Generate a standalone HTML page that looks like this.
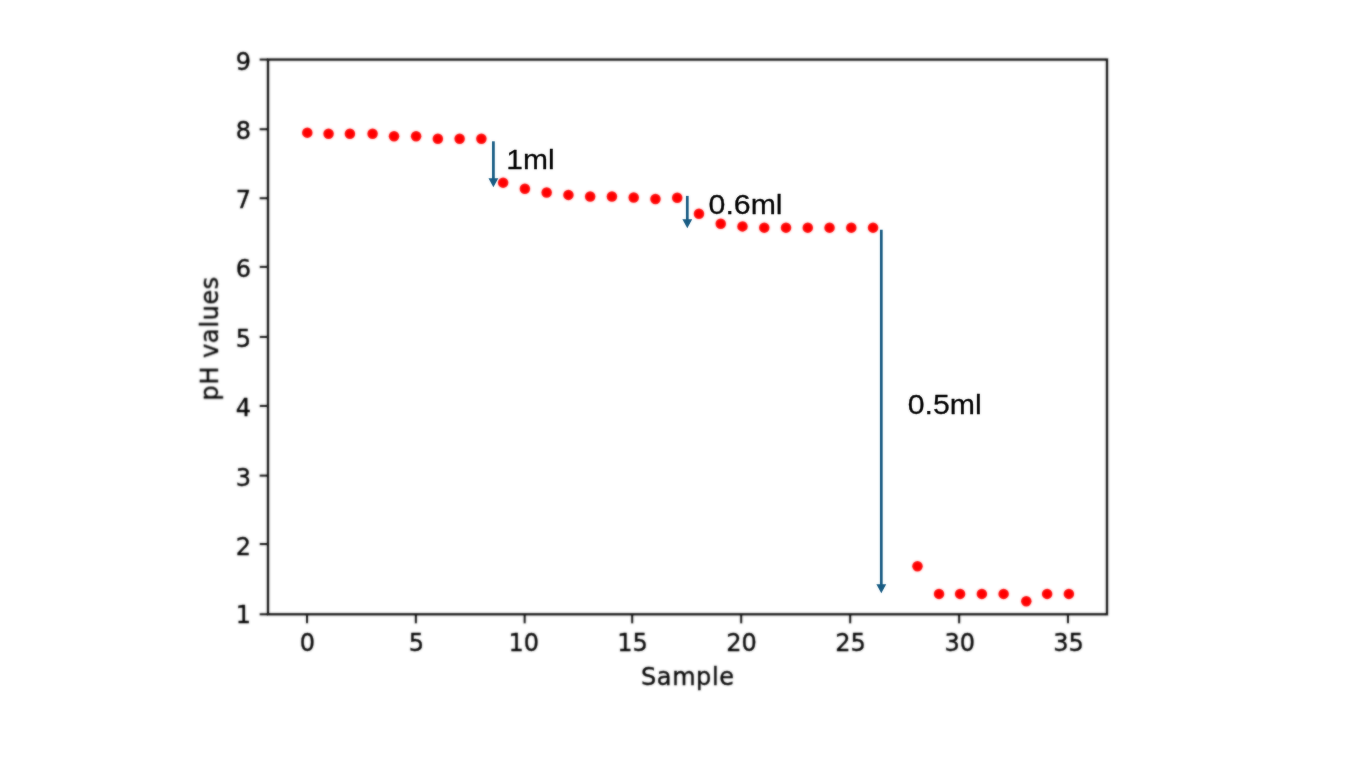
<!DOCTYPE html>
<html lang="en">
<head>
<meta charset="utf-8">
<title>pH values vs Sample</title>
<style>
html,body{margin:0;padding:0;background:#fff;}
body{width:1350px;height:759px;overflow:hidden;position:relative;}
svg{position:absolute;left:0;top:0;display:block;}
.tk{font-family:"DejaVu Sans","Liberation Sans",sans-serif;font-size:24px;fill:#000;stroke:#000;stroke-width:0.35px;stroke-linejoin:round;}
.lb{letter-spacing:0.60px;}
.an{font-family:"Liberation Sans","DejaVu Sans",sans-serif;font-size:28.2px;fill:#000;stroke:#000;stroke-width:0.28px;stroke-linejoin:round;}
</style>
</head>
<body>
<svg width="1350" height="759" viewBox="0 0 1350 759">
<defs><filter id="soft" x="0" y="0" width="1350" height="759" filterUnits="userSpaceOnUse"><feGaussianBlur in="SourceGraphic" stdDeviation="0.90" result="b"/><feComposite in="SourceGraphic" in2="b" operator="arithmetic" k1="0" k2="0.35" k3="0.65" k4="0"/></filter><filter id="soft2" x="0" y="0" width="1350" height="759" filterUnits="userSpaceOnUse"><feGaussianBlur in="SourceGraphic" stdDeviation="0.9" result="b"/><feComposite in="SourceGraphic" in2="b" operator="arithmetic" k1="0" k2="0.7" k3="0.3" k4="0"/></filter></defs>
<rect x="0" y="0" width="1350" height="759" fill="#ffffff"/>

<g id="chart" filter="url(#soft)">
<rect x="268.00" y="59.55" width="839.00" height="554.75" fill="none" stroke="#141414" stroke-width="2.35"/>
<g stroke="#141414" stroke-width="2.10">
<line x1="259.70" y1="614.30" x2="268.00" y2="614.30"/>
<line x1="259.70" y1="544.06" x2="268.00" y2="544.06"/>
<line x1="259.70" y1="475.61" x2="268.00" y2="475.61"/>
<line x1="259.70" y1="405.92" x2="268.00" y2="405.92"/>
<line x1="259.70" y1="336.92" x2="268.00" y2="336.92"/>
<line x1="259.70" y1="266.88" x2="268.00" y2="266.88"/>
<line x1="259.70" y1="198.24" x2="268.00" y2="198.24"/>
<line x1="259.70" y1="129.24" x2="268.00" y2="129.24"/>
<line x1="259.70" y1="59.55" x2="268.00" y2="59.55"/>
<line x1="307.05" y1="614.30" x2="307.05" y2="623.30"/>
<line x1="415.85" y1="614.30" x2="415.85" y2="623.30"/>
<line x1="524.65" y1="614.30" x2="524.65" y2="623.30"/>
<line x1="632.20" y1="614.30" x2="632.20" y2="623.30"/>
<line x1="741.20" y1="614.30" x2="741.20" y2="623.30"/>
<line x1="850.20" y1="614.30" x2="850.20" y2="623.30"/>
<line x1="959.15" y1="614.30" x2="959.15" y2="623.30"/>
<line x1="1067.95" y1="614.30" x2="1067.95" y2="623.30"/>
</g>
<g class="tk">
<text x="251.00" y="623.40" text-anchor="end">1</text>
<text x="251.00" y="555.06" text-anchor="end">2</text>
<text x="251.00" y="486.01" text-anchor="end">3</text>
<text x="251.00" y="415.77" text-anchor="end">4</text>
<text x="251.00" y="347.32" text-anchor="end">5</text>
<text x="251.00" y="277.08" text-anchor="end">6</text>
<text x="251.00" y="208.04" text-anchor="end">7</text>
<text x="251.00" y="139.29" text-anchor="end">8</text>
<text x="251.00" y="70.35" text-anchor="end">9</text>
<text x="307.30" y="651.30" text-anchor="middle">0</text>
<text x="416.30" y="651.00" text-anchor="middle">5</text>
<text x="523.80" y="651.00" text-anchor="middle">10</text>
<text x="632.60" y="651.00" text-anchor="middle">15</text>
<text x="741.60" y="651.00" text-anchor="middle">20</text>
<text x="850.50" y="651.00" text-anchor="middle">25</text>
<text x="959.80" y="651.00" text-anchor="middle">30</text>
<text x="1068.60" y="651.00" text-anchor="middle">35</text>
<text class="lb" x="687.8" y="684.85" text-anchor="middle">Sample</text>
<text class="lb" transform="translate(217.9 338.4) rotate(-90)" text-anchor="middle">pH values</text>
</g>
<g fill="#ff0000">
<circle cx="307.30" cy="132.64" r="5.25"/>
<circle cx="328.56" cy="133.75" r="5.25"/>
<circle cx="349.92" cy="133.75" r="5.25"/>
<circle cx="372.58" cy="133.75" r="5.25"/>
<circle cx="394.04" cy="136.17" r="5.25"/>
<circle cx="416.10" cy="136.17" r="5.25"/>
<circle cx="437.86" cy="138.81" r="5.25"/>
<circle cx="459.62" cy="138.81" r="5.25"/>
<circle cx="481.38" cy="138.81" r="5.25"/>
<circle cx="503.14" cy="182.64" r="5.25"/>
<circle cx="524.90" cy="188.74" r="5.25"/>
<circle cx="546.66" cy="192.48" r="5.25"/>
<circle cx="568.42" cy="194.91" r="5.25"/>
<circle cx="590.18" cy="196.51" r="5.25"/>
<circle cx="611.94" cy="196.51" r="5.25"/>
<circle cx="633.70" cy="197.54" r="5.25"/>
<circle cx="655.46" cy="198.93" r="5.25"/>
<circle cx="677.22" cy="197.68" r="5.25"/>
<circle cx="698.98" cy="213.70" r="5.25"/>
<circle cx="720.74" cy="223.76" r="5.25"/>
<circle cx="742.50" cy="226.39" r="5.25"/>
<circle cx="764.26" cy="227.64" r="5.25"/>
<circle cx="786.02" cy="227.64" r="5.25"/>
<circle cx="807.78" cy="227.64" r="5.25"/>
<circle cx="829.54" cy="227.64" r="5.25"/>
<circle cx="851.30" cy="227.64" r="5.25"/>
<circle cx="873.06" cy="227.64" r="5.25"/>
<circle cx="917.48" cy="566.25" r="5.25"/>
<circle cx="939.04" cy="593.91" r="5.25"/>
<circle cx="960.10" cy="593.91" r="5.25"/>
<circle cx="981.86" cy="593.91" r="5.25"/>
<circle cx="1003.62" cy="593.91" r="5.25"/>
<circle cx="1026.28" cy="601.26" r="5.25"/>
<circle cx="1047.14" cy="593.91" r="5.25"/>
<circle cx="1068.90" cy="593.91" r="5.25"/>
</g>
</g>
<g id="notes" filter="url(#soft2)">
<g>
<line x1="493.40" y1="141.30" x2="493.40" y2="179.20" stroke="#145a82" stroke-width="2.70"/><polygon points="488.50,178.20 498.30,178.20 493.40,187.20" fill="#145a82"/>
<line x1="687.30" y1="195.90" x2="687.30" y2="220.30" stroke="#145a82" stroke-width="2.70"/><polygon points="682.40,219.30 692.20,219.30 687.30,228.30" fill="#145a82"/>
<line x1="881.30" y1="229.70" x2="881.30" y2="585.30" stroke="#145a82" stroke-width="2.70"/><polygon points="876.40,584.30 886.20,584.30 881.30,593.30" fill="#145a82"/>
</g>
<g class="an">
<text x="506.3" y="169.3" textLength="48.3" lengthAdjust="spacingAndGlyphs">1ml</text>
<text x="708.6" y="214.3" textLength="74" lengthAdjust="spacingAndGlyphs">0.6ml</text>
<text x="907.8" y="413.7" textLength="74" lengthAdjust="spacingAndGlyphs">0.5ml</text>
</g>
</g>
</svg>
</body>
</html>
